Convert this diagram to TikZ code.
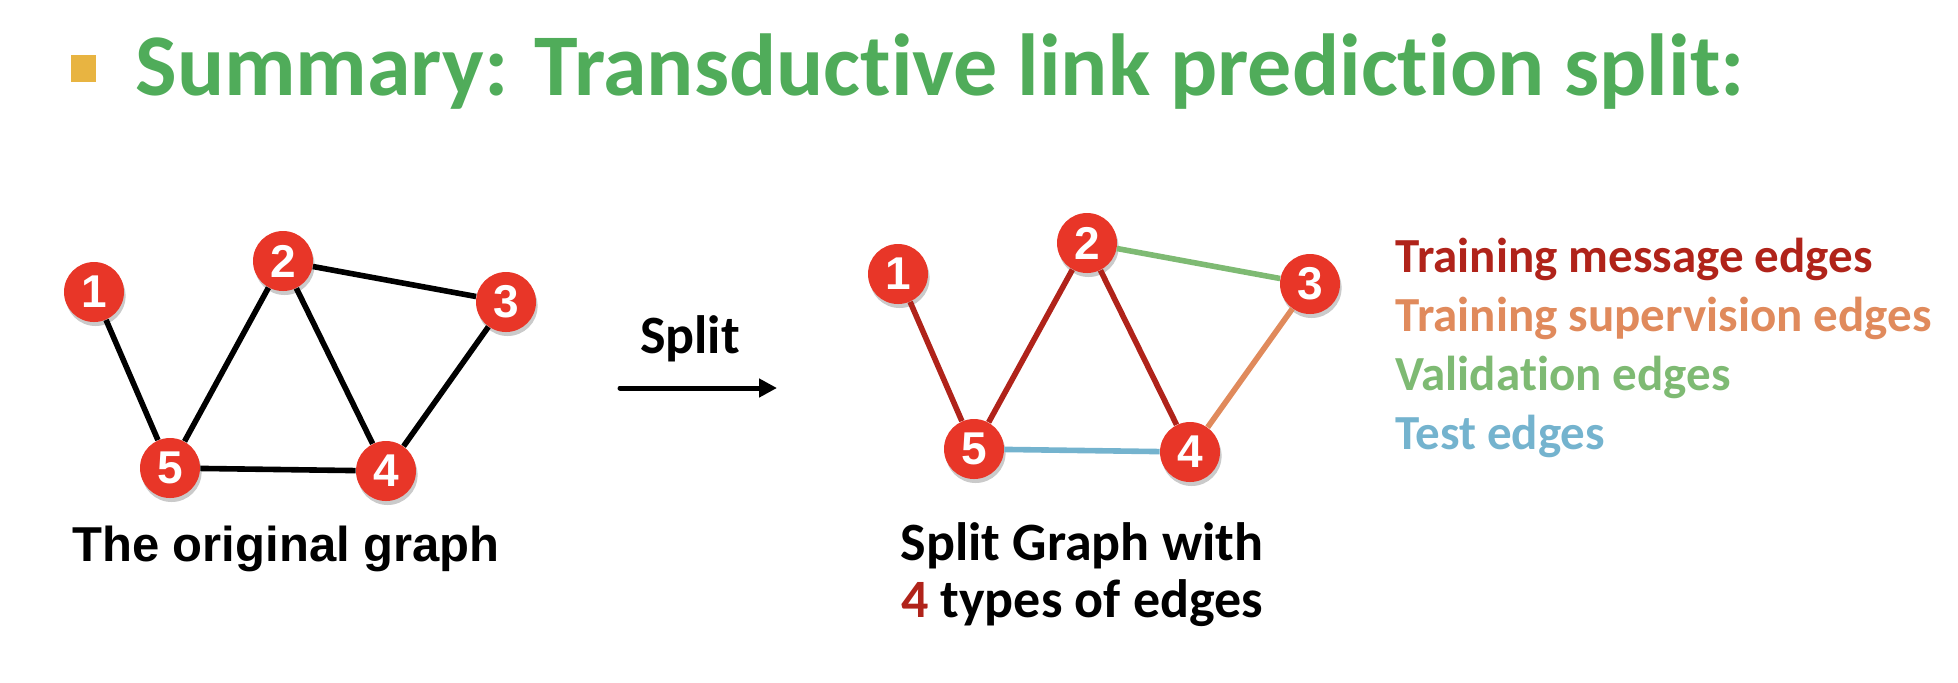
\documentclass[tikz,border=0pt]{standalone}
\usepackage{fontspec}
\setmainfont{Carlito}[Ligatures={NoCommon,NoContextual,NoRare}, Contextuals=NoAlternate]
\newfontfamily\arialfont{Liberation Sans}
\usetikzlibrary{arrows.meta,shadows}
\definecolor{titlegreen}{RGB}{80,172,90}
\definecolor{bulletgold}{RGB}{232,180,65}
\definecolor{nodered}{RGB}{232,54,40}
\definecolor{msgred}{RGB}{176,35,26}
\definecolor{suporange}{RGB}{224,138,92}
\definecolor{valgreen}{RGB}{126,186,115}
\definecolor{testblue}{RGB}{116,179,206}
\tikzset{
	vertex/.style={circle, fill=nodered, minimum size=30pt, inner sep=0pt, text=white,
		font=\arialfont\bfseries\fontsize{23}{23}\selectfont,
		drop shadow={shadow xshift=0.8pt, shadow yshift=-2pt, opacity=0.35, fill=black!60}},
	edge/.style={line width=2.8pt},
	caption/.style={anchor=base, inner sep=0pt},
	legend/.style={anchor=base west, inner sep=0pt, font=\bfseries\fontsize{24.5}{24.5}\selectfont}
}

\begin{document}
\begin{tikzpicture}[x=0.5pt, y=-0.5pt]
			\useasboundingbox (0,0) rectangle (1958,682);
			
			% Title
			\fill[bulletgold] (71,55) rectangle (96,82);
			\node[anchor=base west, inner sep=0pt, text=titlegreen, font=\bfseries\fontsize{44}{44}\selectfont] (title) at (135,95) {Summary: Transductive link prediction split:};
			
			% Original graph
			\node[vertex] (l1) at (94,292) {1};
			\node[vertex] (l2) at (283,261) {2};
			\node[vertex] (l3) at (506,302) {3};
			\node[vertex] (l4) at (386,471) {4};
			\node[vertex] (l5) at (170,468) {5};
			\draw[edge] (l1) -- (l5);
			\draw[edge] (l5) -- (l2);
			\draw[edge] (l2) -- (l4);
			\draw[edge] (l2) -- (l3);
			\draw[edge] (l3) -- (l4);
			\draw[edge] (l5) -- (l4);
			\node[caption, font=\arialfont\bfseries\fontsize{24.5}{24.5}\selectfont] (origcap) at (286,561) {The original graph};
			
			% Split arrow
			\coordinate (arrowL) at (620,388);
			\coordinate (arrowR) at (777,388);
			\draw[line width=2.5pt, line cap=round, -{Triangle[length=9pt,width=9pt]}] (arrowL) -- (arrowR);
			\node[caption, font=\bfseries\fontsize{27}{27}\selectfont] (splitlbl) at (690,353) {Split};
			
			% Split graph
			\node[vertex] (r1) at (898,274) {1};
			\node[vertex] (r2) at (1087,243) {2};
			\node[vertex] (r3) at (1310,284) {3};
			\node[vertex] (r4) at (1190,452) {4};
			\node[vertex] (r5) at (974,449) {5};
			\draw[edge, msgred] (r1) -- (r5);
			\draw[edge, msgred] (r5) -- (r2);
			\draw[edge, msgred] (r2) -- (r4);
			\draw[edge, valgreen] (r2) -- (r3);
			\draw[edge, suporange] (r3) -- (r4);
			\draw[edge, testblue] (r5) -- (r4);
			\node[caption, font=\bfseries\fontsize{27}{27}\selectfont] (splitcap) at (1082,560) {Split Graph with};
			\node[caption, font=\bfseries\fontsize{27}{27}\selectfont] (typecap) at (1082,617) {\textcolor{msgred}{4} types of edges};
			
			% Legend
			\node[legend, text=msgred] (legmsg) at (1395,272) {Training message edges};
			\node[legend, text=suporange] (legsup) at (1395,331) {Training supervision edges};
			\node[legend, text=valgreen] (legval) at (1395,390) {Validation edges};
			\node[legend, text=testblue] (legtest) at (1395,449) {Test edges};
		\end{tikzpicture}
\end{document}
